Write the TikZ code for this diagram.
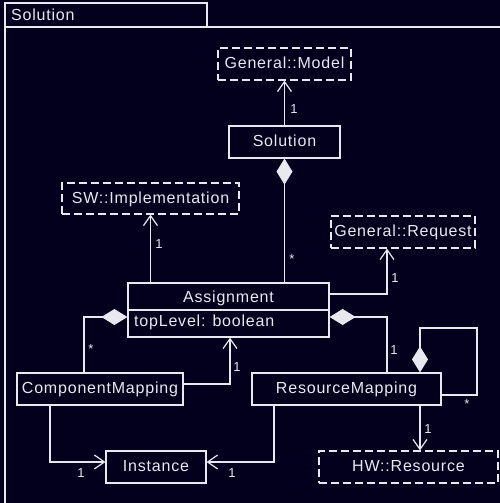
\documentclass[tikz,border=0pt]{standalone}
\usepackage{fontspec}
\setmainfont{Liberation Sans}[LetterSpace=5]
\usetikzlibrary{arrows.meta,calc}
\definecolor{bg}{RGB}{3,0,30}
\definecolor{fg}{RGB}{232,232,238}
\begin{document}
\begin{tikzpicture}[x=1pt,y=-1pt,
  box/.style={draw=fg, line width=1.2pt, rectangle, inner sep=0pt, text=fg,
    font=\fontsize{16}{19}\selectfont, text height=12pt, text depth=3pt},
  ext/.style={box, dash pattern=on 8pt off 4pt},
  lbl/.style={text=fg, font=\fontsize{13}{15}\selectfont, inner sep=0pt, anchor=base},
  txt/.style={text=fg, font=\fontsize{16}{19}\selectfont, inner sep=0pt},
  assoc/.style={draw=fg, line width=1.2pt, -{Straight Barb[length=10pt,width=14pt]}},
  comp/.style={draw=fg, line width=1.2pt, {Diamond[length=26pt,width=16pt,fill=fg]}-},
  plain/.style={draw=fg, line width=1.2pt}]
\useasboundingbox (0,0) rectangle (500,503);
\fill[bg] (0,0) rectangle (500,503);
\clip (0,0) rectangle (500,503);
% frame
\draw[plain] (5,27) rectangle (530,530);
\draw[plain] (5,3) rectangle (207,27);
\node[txt, anchor=base west] (tabtxt) at (11,21) {Solution};
% classes
\node[ext, minimum width=133pt, minimum height=32pt] (model) at (284.5,64) {General::Model};
\node[box, minimum width=111pt, minimum height=32pt] (solution) at (284.5,142) {Solution};
\node[ext, minimum width=177pt, minimum height=31pt] (swimpl) at (150.5,198.5) {SW::Implementation};
\node[ext, minimum width=144pt, minimum height=32pt] (request) at (403,232) {General::Request};
\node[box, minimum width=201pt, minimum height=54pt] (assign) at (228.5,310) {};
\node[txt, anchor=base] (assigntitle) at (228.5,302.5) {Assignment};
\node[txt, anchor=base west] (assignattr) at (134,326.5) {topLevel: boolean};
\draw[plain] (assign.west |- 0,310) -- (assign.east |- 0,310);
\node[box, minimum width=166pt, minimum height=32pt] (compmap) at (100,389) {ComponentMapping};
\node[box, minimum width=189pt, minimum height=32pt] (resmap) at (346.5,389) {ResourceMapping};
\node[box, minimum width=100pt, minimum height=32pt] (instance) at (156,467) {Instance};
\node[ext, minimum width=179pt, minimum height=32pt] (hwres) at (408.5,467) {HW::Resource};
% connectors
\draw[assoc] (solution.north) -- (model.south);
\draw[comp] (solution.south) -- (solution.south |- assign.north);
\draw[assoc] (assign.north -| swimpl.south) -- (swimpl.south);
\draw[assoc] (assign.east |- 0,294) -| (request.south -| 387,0);
\draw[comp] (assign.west |- 0,317) -| (compmap.north -| 84,0);
\draw[assoc] (compmap.east |- 0,384) -| (assign.south -| 230,0);
\draw[comp] (assign.east |- 0,317) -| (resmap.north -| 387,0);
\draw[comp] (resmap.north -| 420,0) -- (420,328) -- (477,328) |- (resmap.east |- 0,395);
\draw[assoc] (compmap.south -| 50,0) |- (instance.west |- 0,462);
\draw[assoc] (resmap.south -| 274,0) |- (instance.east |- 0,462);
\draw[assoc] (resmap.south -| 420,0) -- (hwres.north -| 420,0);
% multiplicities
\node[lbl] (m1) at (294,113) {1};
\node[lbl] (m2) at (292,263) {*};
\node[lbl] (m3) at (159,248) {1};
\node[lbl] (m4) at (395,282) {1};
\node[lbl] (m5) at (91,353) {*};
\node[lbl] (m6) at (237,371) {1};
\node[lbl] (m7) at (394,354) {1};
\node[lbl] (m8) at (467,408) {*};
\node[lbl] (m9) at (428,433) {1};
\node[lbl] (m10) at (81,477) {1};
\node[lbl] (m11) at (232,477) {1};
\end{tikzpicture}
\end{document}
